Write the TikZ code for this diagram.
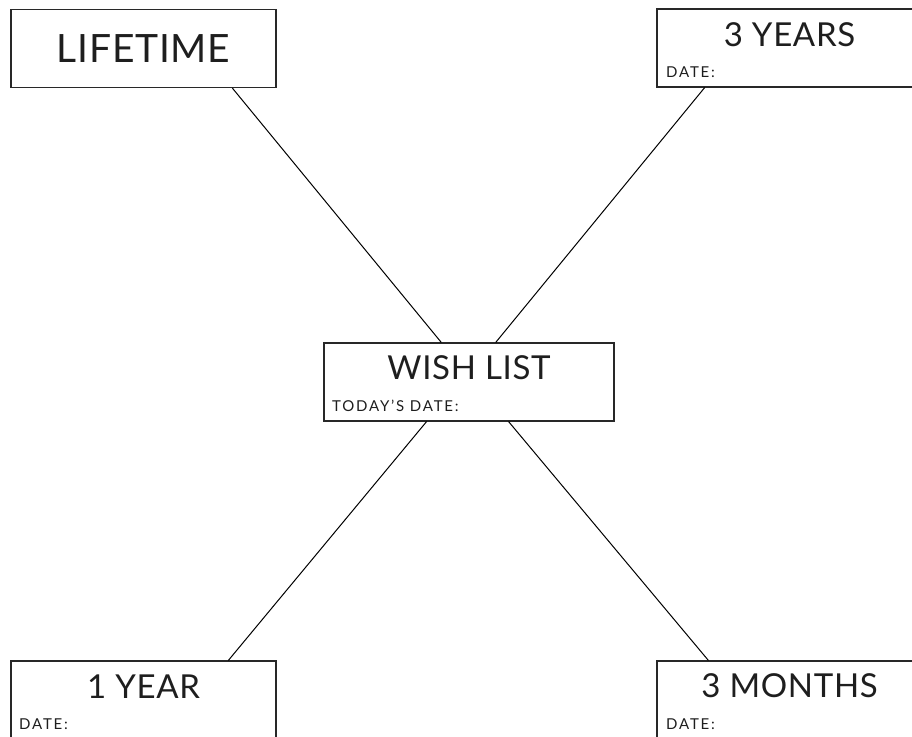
\documentclass[tikz,border=0pt]{standalone}
\usepackage{fontspec}
\setmainfont{Lato}
\usetikzlibrary{positioning}
\definecolor{frame}{RGB}{40, 40, 40}
\definecolor{ink}{RGB}{30, 30, 30}

\tikzset{
  box/.style={draw=frame, line width=1.1pt, minimum width=265pt, minimum height=78pt, inner sep=0pt},
  bigtitle/.style={anchor=base, text=ink, font=\fontsize{39}{39}\selectfont\addfontfeatures{LetterSpace=2}},
  title/.style={anchor=base, text=ink, font=\fontsize{33}{33}\selectfont\addfontfeatures{LetterSpace=2}},
  datefield/.style={anchor=base west, text=ink, inner sep=0pt, font=\fontsize{15}{15}\selectfont\addfontfeatures{LetterSpace=12}},
  link/.style={line width=1pt, black}
}

\begin{document}
\begin{tikzpicture}[x=1pt, y=-1pt]
        \useasboundingbox (0,0) rectangle (912,736);
        \clip (0,0) rectangle (912,736);

        % boxes
        \node[box] (life) at (143.5,48.5) {};
        \node[box] (yrs3) at (789.5,48) {};
        \node[box, minimum width=290pt, minimum height=78pt] (wish) at (469,382) {};
        \node[box] (yr1) at (143.5,700) {};
        \node[box] (mon3) at (789.5,700) {};

        % texts
        \node[bigtitle] (lifetxt) at (143.5,62) {LIFETIME};
        \node[title] (yrs3txt) at (789.5,46) {3 YEARS};
        \node[datefield] (yrs3date) at (666,77) {DATE:};
        \node[title] (wishtxt) at (469,379) {WISH LIST};
        \node[datefield] (wishdate) at (332,411) {TODAY’S DATE:};
        \node[title] (yr1txt) at (143.5,698) {1 YEAR};
        \node[datefield] (yr1date) at (19,729) {DATE:};
        \node[title] (mon3txt) at (789.5,697) {3 MONTHS};
        \node[datefield] (mon3date) at (666,729) {DATE:};

        % links
        \draw[link] (life.-24.75) -- (wish.125.7);
        \draw[link] (yrs3.205.9) -- (wish.56.3);
        \draw[link] (wish.223.6) -- (yr1.25.0);
        \draw[link] (wish.-45.7) -- (mon3.154.2);
    \end{tikzpicture}
\end{document}
